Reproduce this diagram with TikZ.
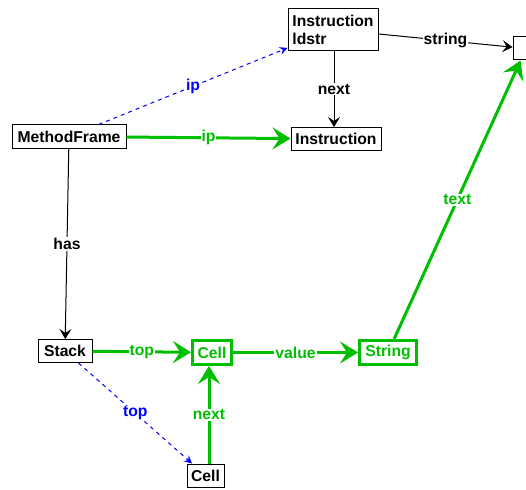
\documentclass[tikz,border=0pt]{standalone}
\usepackage{fontspec}
\setmainfont{Liberation Sans}
\usetikzlibrary{arrows.meta}
\definecolor{hotgreen}{RGB}{0,190,0}
\definecolor{refblue}{RGB}{0,0,255}
\begin{document}
\begin{tikzpicture}[x=1pt,y=-1pt,
  font=\fontsize{15.7}{18}\selectfont\bfseries,
  obj/.style={draw, line width=1pt, inner sep=2pt, minimum height=23pt, fill=white},
  hot/.style={draw=hotgreen, text=hotgreen, line width=3pt, inner sep=2pt, minimum height=24pt, fill=white},
  blk/.style={draw, line width=1pt, -{Stealth[length=10pt,width=12pt,inset=4pt]}},
  grn/.style={draw=hotgreen, line width=3pt, -{Stealth[length=18pt,width=22pt,inset=7pt]}},
  blu/.style={draw=refblue, line width=1pt, dash pattern=on 4pt off 4pt, -{Stealth[length=8pt,width=8pt,inset=3pt]}},
  lbl/.style={fill=white, inner sep=1pt, midway},
]
\useasboundingbox (0,0) rectangle (526,489);

% objects
\node[obj, minimum width=90pt, minimum height=42pt, align=left] (ldstr) at (333,29.5) {Instruction\\ldstr};
\node[obj, minimum width=90pt] (instr) at (336,139) {Instruction};
\node[obj, minimum width=26pt] (strobj) at (526,48.5) {};
\node[obj, minimum width=114pt] (frame) at (69,136.5) {MethodFrame};
\node[obj, minimum width=54pt] (stack) at (65,351) {Stack};
\node[hot, minimum width=39pt] (cell) at (212,352.5) {Cell};
\node[hot, minimum width=57pt] (string) at (388,352.5) {String};
\node[obj, minimum width=37pt] (cell2) at (205.5,475.5) {Cell};

% references
\draw[blk] ([xshift=1pt]ldstr.south) -- node[lbl] {next} ([xshift=-2pt]instr.north);
\draw[blk] (ldstr) -- node[lbl] {string} (strobj);
\draw[blk] (frame) -- node[lbl] {has} (stack);
\draw[blu] (frame) -- node[lbl, text=refblue] {ip} (ldstr);
\draw[blu] (stack) -- node[lbl, text=refblue] {top} (cell2);
\draw[grn] (frame) -- node[lbl, text=hotgreen] {ip} (instr);
\draw[grn] (stack) -- node[lbl, text=hotgreen] {top} (cell);
\draw[grn] (cell) -- node[lbl, text=hotgreen] {value} (string);
\draw[grn] ([xshift=3.5pt]cell2.north) -- node[lbl, text=hotgreen] {next} ([xshift=-3pt]cell.south);
\draw[grn] (string) -- node[lbl, text=hotgreen] {text} (strobj);
\end{tikzpicture}
\end{document}
